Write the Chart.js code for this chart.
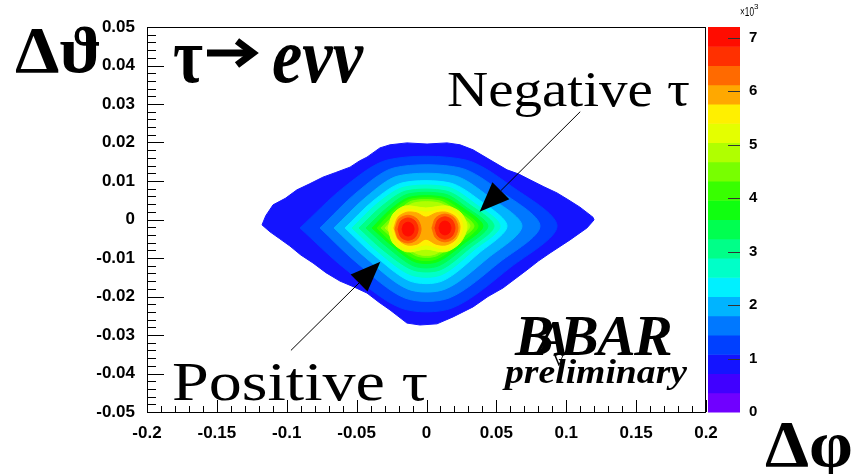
<!DOCTYPE html>
<html>
<head>
<meta charset="utf-8">
<script src="https://cdn.jsdelivr.net/npm/chart.js@4/dist/chart.umd.min.js"></script>
<style>
  html, body { margin: 0; padding: 0; background: #fff; }
  canvas { display: block; }
</style>
</head>
<body>
<canvas id="chart-dphi" width="865" height="474"></canvas>
<script>
// axis ticks
const phiTicks = [-0.2, -0.15, -0.1, -0.05, 0, 0.05, 0.1, 0.15, 0.2];
const thetaTicks = [-0.05, -0.04, -0.03, -0.02, -0.01, 0, 0.01, 0.02, 0.03, 0.04, 0.05];
const zTicks = [0, 1000, 2000, 3000, 4000, 5000, 6000, 7000];

// contour lower bounds (entries per closed path, two paths near the two peaks)
const contourLevels = [
  720, 1080, 1440, 1800, 2160, 2520, 2880, 3240, 3600, 3960,
  4320, 4680, 5040, 5400, 5760, 6120, 6120, 6480, 6480, 6840, 6840,
];

// closed contour paths in (dphi, dtheta)
const contourPaths = [
  [[-0.1177,-0.0014],[-0.1150,0.0010],[-0.1098,0.0038],[-0.1010,0.0055],[-0.0927,0.0077],[-0.0840,0.0092],
   [-0.0741,0.0110],[-0.0650,0.0122],[-0.0547,0.0136],[-0.0480,0.0152],[-0.0426,0.0162],[-0.0333,0.0186],
   [-0.0261,0.0194],[-0.0140,0.0199],[0.0004,0.0196],[0.0147,0.0199],[0.0240,0.0194],[0.0333,0.0181],
   [0.0454,0.0155],[0.0576,0.0129],[0.0660,0.0118],[0.0741,0.0103],[0.0840,0.0085],[0.0934,0.0069],
   [0.1020,0.0050],[0.1098,0.0032],[0.1191,0.0006],[0.1199,-0.0001],[0.1148,-0.0022],[0.1027,-0.0053],
   [0.0884,-0.0087],[0.0800,-0.0108],[0.0719,-0.0131],[0.0547,-0.0178],[0.0440,-0.0200],[0.0333,-0.0227],
   [0.0190,-0.0253],[0.0075,-0.0271],[-0.0047,-0.0274],[-0.0140,-0.0269],[-0.0261,-0.0235],[-0.0340,-0.0215],
   [-0.0426,-0.0191],[-0.0520,-0.0175],[-0.0619,-0.0160],[-0.0720,-0.0138],[-0.0812,-0.0113],[-0.0900,-0.0092],
   [-0.0977,-0.0069],[-0.1050,-0.0050],[-0.1120,-0.0032]],
  [[-0.0905,-0.0022],[-0.0590,0.0084],[-0.0275,0.0155],[0.0275,0.0155],[0.0605,0.0087],[0.0934,-0.0017],
   [0.0605,-0.0123],[0.0182,-0.0230],[-0.0182,-0.0230],[-0.0590,-0.0126]],
  [[-0.0762,-0.0022],[-0.0497,0.0071],[-0.0233,0.0134],[0.0240,0.0134],[0.0526,0.0074],[0.0812,-0.0017],
   [0.0526,-0.0110],[0.0161,-0.0204],[-0.0154,-0.0204],[-0.0497,-0.0113]],
  [[-0.0662,-0.0022],[-0.0433,0.0058],[-0.0204,0.0113],[0.0204,0.0113],[0.0440,0.0061],[0.0683,-0.0017],
   [0.0440,-0.0100],[0.0132,-0.0181],[-0.0132,-0.0181],[-0.0433,-0.0100]],
  [[-0.0583,-0.0022],[-0.0383,0.0048],[-0.0175,0.0095],[0.0168,0.0095],[0.0376,0.0051],[0.0576,-0.0017],
   [0.0376,-0.0087],[0.0111,-0.0160],[-0.0118,-0.0160],[-0.0383,-0.0090]],
  [[-0.0533,-0.0022],[-0.0347,0.0043],[-0.0161,0.0084],[0.0154,0.0084],[0.0340,0.0043],[0.0526,-0.0017],
   [0.0340,-0.0079],[0.0104,-0.0144],[-0.0111,-0.0144],[-0.0347,-0.0084]],
  [[-0.0483,-0.0022],[-0.0318,0.0035],[-0.0147,0.0074],[0.0140,0.0074],[0.0311,0.0038],[0.0483,-0.0017],
   [0.0311,-0.0074],[0.0097,-0.0131],[-0.0097,-0.0131],[-0.0318,-0.0077]],
  [[-0.0433,-0.0022],[-0.0283,0.0030],[-0.0132,0.0066],[0.0132,0.0066],[0.0283,0.0032],[0.0440,-0.0017],
   [0.0283,-0.0069],[0.0082,-0.0121],[-0.0089,-0.0121],[-0.0283,-0.0071]],
  [[-0.0390,-0.0022],[-0.0254,0.0027],[-0.0118,0.0058],[0.0118,0.0058],[0.0261,0.0030],[0.0404,-0.0017],
   [0.0261,-0.0064],[0.0075,-0.0110],[-0.0082,-0.0110],[-0.0254,-0.0066]],
  [[-0.0354,-0.0022],[-0.0233,0.0025],[-0.0111,0.0053],[0.0111,0.0053],[0.0240,0.0025],[0.0369,-0.0017],
   [0.0240,-0.0061],[0.0068,-0.0103],[-0.0075,-0.0103],[-0.0233,-0.0064]],
  [[-0.0326,-0.0022],[-0.0211,0.0019],[-0.0104,0.0048],[0.0097,0.0048],[0.0218,0.0022],[0.0340,-0.0017],
   [0.0218,-0.0056],[0.0068,-0.0095],[-0.0068,-0.0095],[-0.0211,-0.0058]],
  [[-0.0297,-0.0022],[-0.0197,0.0017],[-0.0089,0.0043],[0.0089,0.0043],[0.0204,0.0019],[0.0311,-0.0017],
   [0.0204,-0.0053],[0.0061,-0.0090],[-0.0061,-0.0090],[-0.0197,-0.0056]],
  [[-0.0275,-0.0022],[-0.0240,0.0014],[-0.0154,0.0035],[-0.0004,0.0030],[0.0147,0.0035],[0.0247,0.0017],
   [0.0290,-0.0019],[0.0240,-0.0061],[0.0132,-0.0084],[-0.0004,-0.0077],[-0.0140,-0.0084],[-0.0240,-0.0061]],
  [[-0.0254,-0.0022],[-0.0218,0.0009],[-0.0147,0.0027],[-0.0004,0.0019],[0.0140,0.0027],[0.0225,0.0012],
   [0.0261,-0.0019],[0.0218,-0.0056],[0.0132,-0.0077],[-0.0004,-0.0066],[-0.0132,-0.0077],[-0.0218,-0.0056]],
  [[-0.0233,-0.0022],[-0.0204,0.0006],[-0.0140,0.0019],[-0.0068,0.0017],[-0.0004,0.0006],[0.0068,0.0017],
   [0.0140,0.0019],[0.0211,0.0006],[0.0240,-0.0019],[0.0211,-0.0051],[0.0140,-0.0066],[0.0068,-0.0064],
   [-0.0004,-0.0051],[-0.0068,-0.0064],[-0.0140,-0.0066],[-0.0204,-0.0051]],
  [[-0.0225,-0.0025],[-0.0198,0.0001],[-0.0132,0.0011],[-0.0066,0.0001],[-0.0039,-0.0025],[-0.0066,-0.0051],
   [-0.0132,-0.0061],[-0.0198,-0.0051]],
  [[0.0039,-0.0022],[0.0066,0.0004],[0.0132,0.0014],[0.0198,0.0004],[0.0225,-0.0022],[0.0198,-0.0048],
   [0.0132,-0.0058],[0.0066,-0.0048]],
  [[-0.0204,-0.0025],[-0.0183,-0.0004],[-0.0132,0.0004],[-0.0081,-0.0004],[-0.0060,-0.0025],[-0.0081,-0.0046],
   [-0.0132,-0.0054],[-0.0183,-0.0046]],
  [[0.0060,-0.0022],[0.0081,-0.0001],[0.0132,0.0007],[0.0183,-0.0001],[0.0204,-0.0022],[0.0183,-0.0043],
   [0.0132,-0.0051],[0.0081,-0.0043]],
  [[-0.0175,-0.0025],[-0.0162,-0.0012],[-0.0132,-0.0007],[-0.0102,-0.0012],[-0.0089,-0.0025],[-0.0102,-0.0038],
   [-0.0132,-0.0043],[-0.0162,-0.0038]],
  [[0.0089,-0.0022],[0.0102,-0.0009],[0.0132,-0.0004],[0.0162,-0.0009],[0.0175,-0.0022],[0.0162,-0.0035],
   [0.0132,-0.0040],[0.0102,-0.0035]],
];

// arrows: [start, tip] in (dphi, dtheta)
const arrowNeg = [[0.110, 0.028], [0.038, 0.002]];
const arrowPos = [[-0.097, -0.034], [-0.033, -0.011]];

const Z_MAX = 7200;
const N_CONT = 20;
const PALETTE = [
  '#7000ff', '#4000ff', '#1414ff', '#0040ff', '#0078ff', '#00b4ff', '#00f0ff', '#00ffc8', '#00ff88', '#00ff50',
  '#10ff10', '#38ff00', '#78ff00', '#b0ff00', '#e4ff00', '#fff000', '#ffa800', '#ff6a00', '#ff3000', '#ff0c00',
];
const SANS = '"Liberation Sans", Arial, sans-serif';
const SERIF = '"Liberation Serif", "Times New Roman", "DejaVu Serif", serif';

function bandColor(level) {
  const idx = Math.floor(level / (Z_MAX / N_CONT) + 1e-6);
  return PALETTE[Math.min(idx, N_CONT - 1)];
}

const datasets = contourPaths.map((path, i) => {
  const color = bandColor(contourLevels[i]);
  return {
    data: [...path, path[0]].map(([x, y]) => ({ x, y })),
    showLine: true,
    fill: 'shape',
    tension: i === 0 ? 0 : 0.3,
    backgroundColor: color,
    borderColor: color,
    borderWidth: 1,
    pointRadius: 0,
    order: contourPaths.length - i,
  };
});

// fit text to a given width by stretching it horizontally
function fitText(ctx, text, font, x, y, w) {
  ctx.save();
  ctx.font = font;
  const m = ctx.measureText(text).width;
  ctx.translate(x, y);
  ctx.scale(w / m, 1);
  ctx.fillText(text, 0, 0);
  ctx.restore();
}

function drawArrow(ctx, sx, sy, tx, ty) {
  const dx = tx - sx, dy = ty - sy;
  const len = Math.hypot(dx, dy);
  const ux = dx / len, uy = dy / len;
  const bx = tx - ux * 30, by = ty - uy * 30;
  ctx.beginPath();
  ctx.moveTo(sx, sy);
  ctx.lineTo(bx, by);
  ctx.stroke();
  ctx.beginPath();
  ctx.moveTo(tx, ty);
  ctx.lineTo(bx - uy * 12, by + ux * 12);
  ctx.lineTo(bx + uy * 12, by - ux * 12);
  ctx.closePath();
  ctx.fill();
}

// no extra room for overhanging tick labels, the frame is placed by hand
const noPad = s => { s.paddingTop = 0; s.paddingBottom = 0; s.paddingLeft = 0; s.paddingRight = 0; };

const rootFrame = {
  id: 'rootFrame',
  afterDatasetsDraw(chart) {
    const { ctx, chartArea: a, scales } = chart;
    const { x, y, cbar } = scales;
    ctx.save();

    // palette bar
    const step = Z_MAX / N_CONT;
    for (let b = 0; b < N_CONT; b++) {
      const y0 = cbar.getPixelForValue(b * step);
      const y1 = cbar.getPixelForValue((b + 1) * step);
      ctx.fillStyle = PALETTE[b];
      ctx.fillRect(a.right + 2, y1, 32, y0 - y1 + 0.5);
    }
    ctx.strokeStyle = '#333';
    ctx.lineWidth = 1;
    zTicks.forEach(v => {
      if (v === 0) return;
      const py = Math.round(cbar.getPixelForValue(v)) + 0.5;
      ctx.beginPath();
      ctx.moveTo(a.right + 34, py);
      ctx.lineTo(a.right + 22, py);
      ctx.stroke();
    });

    // frame
    ctx.strokeStyle = '#000';
    ctx.strokeRect(a.left + 0.5, a.top + 0.5, a.right - a.left - 1, a.bottom - a.top);

    // inward major / minor ticks
    for (let i = 0; i <= 40; i++) {
      const px = Math.round(x.getPixelForValue(-0.2 + i * 0.01)) + 0.5;
      const len = i % 5 === 0 ? 12 : 6;
      ctx.beginPath();
      ctx.moveTo(px, a.bottom);
      ctx.lineTo(px, a.bottom - len);
      ctx.stroke();
    }
    for (let i = 0; i <= 50; i++) {
      const py = Math.round(y.getPixelForValue(-0.05 + i * 0.002)) + 0.5;
      const len = i % 5 === 0 ? 17 : 9;
      ctx.beginPath();
      ctx.moveTo(a.left, py);
      ctx.lineTo(a.left + len, py);
      ctx.stroke();
    }
    ctx.restore();
  },
  afterDraw(chart) {
    const { ctx, scales } = chart;
    const { x, y } = scales;
    ctx.save();
    ctx.fillStyle = '#000';
    ctx.strokeStyle = '#000';
    ctx.textBaseline = 'alphabetic';
    ctx.textAlign = 'left';

    // colour bar exponent
    fitText(ctx, '\u00d710', `13px ${SANS}`, 740, 16, 14);
    ctx.font = `8px ${SANS}`;
    ctx.fillText('3', 754, 9);

    // axis titles
    fitText(ctx, '\u0394\u03d1', `bold 66px ${SERIF}`, 15, 72, 87);
    fitText(ctx, '\u0394\u03c6', `bold 66px ${SERIF}`, 765, 466, 88);

    // decay label
    fitText(ctx, '\u03c4', `bold 78px ${SERIF}`, 173, 82, 30);
    ctx.lineWidth = 7;
    ctx.lineJoin = 'miter';
    ctx.beginPath();
    ctx.moveTo(207, 53);
    ctx.lineTo(248, 53);
    ctx.stroke();
    ctx.beginPath();
    ctx.moveTo(237, 41);
    ctx.lineTo(253, 53);
    ctx.lineTo(237, 65);
    ctx.stroke();
    fitText(ctx, 'e\u03bd\u03bd', `italic bold 78px ${SERIF}`, 272, 82, 91);

    // charge labels and arrows
    fitText(ctx, 'Negative \u03c4', `50px ${SERIF}`, 447, 106, 243);
    fitText(ctx, 'Positive \u03c4', `54px ${SERIF}`, 172, 400, 256);
    ctx.lineWidth = 1;
    [arrowNeg, arrowPos].forEach(([s, t]) => {
      drawArrow(ctx,
        x.getPixelForValue(s[0]), y.getPixelForValue(s[1]),
        x.getPixelForValue(t[0]), y.getPixelForValue(t[1]));
    });

    // experiment logo
    ctx.font = `italic bold 58px ${SERIF}`;
    ctx.fillText('B', 515, 355);
    ctx.fillText('B', 560, 355);
    ctx.fillText('A', 597, 355);
    ctx.fillText('R', 634, 355);
    ctx.font = `italic bold 50px ${SERIF}`;
    ctx.fillText('A', 536, 355);
    ctx.font = `16px ${SERIF}`;
    ctx.fillText('V', 553, 366);
    fitText(ctx, 'preliminary', `italic bold 34px ${SERIF}`, 505, 383, 182);
    ctx.restore();
  },
};

const tickFont = { family: SANS, size: 17, weight: 'bold' };
const fmt = v => String(+Number(v).toFixed(3));

new Chart(document.getElementById('chart-dphi').getContext('2d'), {
  type: 'scatter',
  data: { datasets },
  options: {
    responsive: false,
    animation: false,
    devicePixelRatio: 1,
    layout: { padding: { top: 27, left: 0, right: 0, bottom: 0 } },
    plugins: {
      legend: { display: false },
      tooltip: { enabled: false },
    },
    scales: {
      x: {
        type: 'linear', min: -0.2, max: 0.2,
        afterBuildTicks: s => { s.ticks = phiTicks.map(v => ({ value: v })); },
        ticks: { font: tickFont, color: '#000', padding: 3, maxRotation: 0, autoSkip: false, callback: fmt },
        grid: { display: false },
        border: { display: false },
        afterFit: s => { s.height = 62; noPad(s); },
      },
      y: {
        type: 'linear', min: -0.05, max: 0.05,
        afterBuildTicks: s => { s.ticks = thetaTicks.map(v => ({ value: v })); },
        ticks: { font: tickFont, color: '#000', padding: 4, autoSkip: false, callback: fmt },
        grid: { display: false },
        border: { display: false },
        afterFit: s => { s.width = 147; noPad(s); },
      },
      cbar: {
        type: 'linear', position: 'right', min: 0, max: Z_MAX,
        afterBuildTicks: s => { s.ticks = zTicks.map(v => ({ value: v })); },
        ticks: { font: { family: SANS, size: 15, weight: 'bold' }, color: '#000', padding: 35, callback: v => v / 1000 },
        grid: { display: false },
        border: { display: false },
        afterFit: s => { s.width = 159; noPad(s); },
      },
    },
  },
  plugins: [rootFrame],
});
</script>
</body>
</html>
